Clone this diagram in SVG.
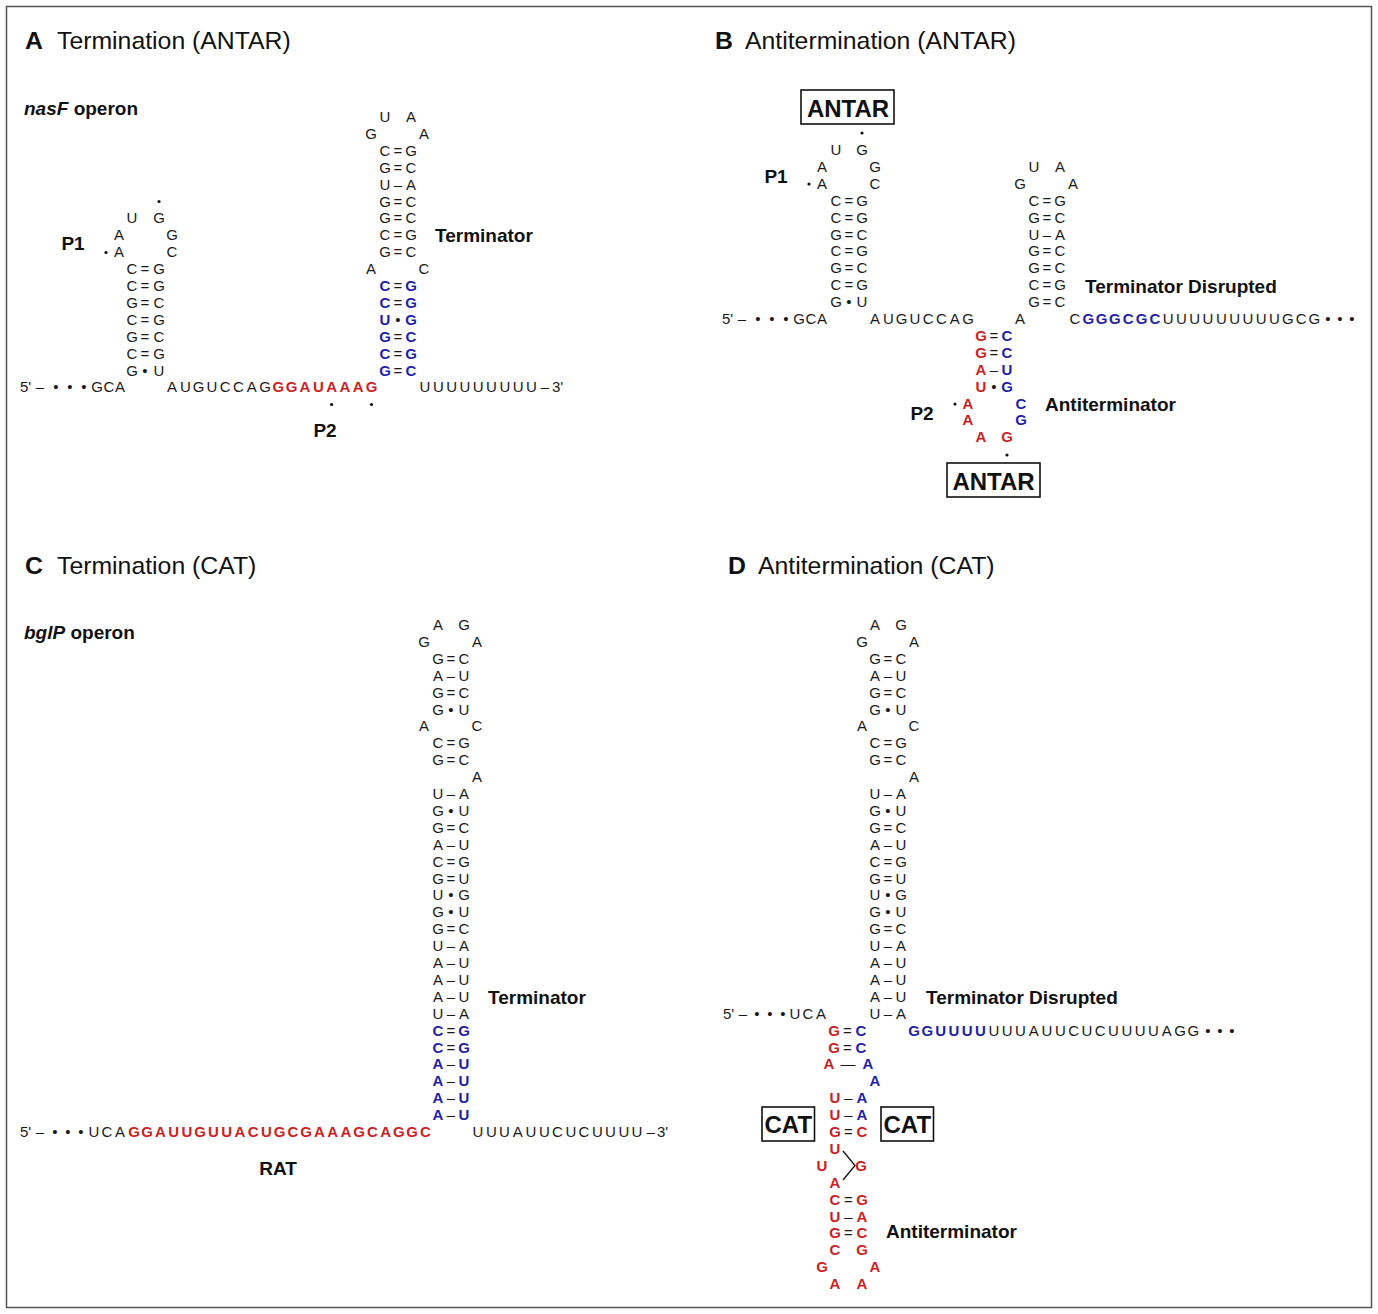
<svg xmlns="http://www.w3.org/2000/svg" width="1378" height="1314" viewBox="0 0 1378 1314">
<style>
.n{font-family:"Liberation Sans",Arial,sans-serif;font-size:15px;text-anchor:middle;fill:#1a1a1a}
.ns{font-family:"Liberation Sans",Arial,sans-serif;font-size:15px;text-anchor:start;fill:#1a1a1a}
.r{fill:#cc1f1f;font-weight:bold}
.b{fill:#1f1fa8;font-weight:bold}
.lb{font-family:"Liberation Sans",Arial,sans-serif;font-size:19px;font-weight:bold;fill:#111}
.tt{font-family:"Liberation Sans",Arial,sans-serif;font-size:24.8px;fill:#111}
.bx{font-family:"Liberation Sans",Arial,sans-serif;font-size:24px;font-weight:bold;fill:#111;text-anchor:middle}
.box{fill:#fff;stroke:#111;stroke-width:1.6}
.dot{fill:#111}
.ln{stroke:#111;stroke-width:1.3;fill:none}
</style>
<rect x="0" y="0" width="1378" height="1314" fill="#fff"/>
<rect x="6.5" y="6.5" width="1365" height="1301" fill="none" stroke="#555" stroke-width="1.5"/>

<g id="titles">
<text class="tt" x="25" y="49"><tspan font-weight="bold">A</tspan><tspan x="57">Termination (ANTAR)</tspan></text>
<text class="tt" x="715" y="49"><tspan font-weight="bold">B</tspan><tspan x="745">Antitermination (ANTAR)</tspan></text>
<text class="tt" x="25" y="574"><tspan font-weight="bold">C</tspan><tspan x="57">Termination (CAT)</tspan></text>
<text class="tt" x="728" y="574"><tspan font-weight="bold">D</tspan><tspan x="758">Antitermination (CAT)</tspan></text>
<text class="lb" x="24" y="115"><tspan font-style="italic">nasF</tspan> operon</text>
<text class="lb" x="24" y="639"><tspan font-style="italic">bglP</tspan> operon</text>
</g>

<!-- ================= PANEL A ================= -->
<g id="A-P1">
<circle class="dot" cx="159" cy="201.5" r="1.6"/>
<text class="n" x="132 159" y="223.4">UG</text>
<text class="n" x="119 172" y="240.3">AG</text>
<circle class="dot" cx="106" cy="252.5" r="1.6"/>
<text class="n" x="119 172" y="257.2">AC</text>
<text class="n" x="132 145 159" y="274.1">C=G</text>
<text class="n" x="132 145 159" y="291">C=G</text>
<text class="n" x="132 145 159" y="307.9">G=C</text>
<text class="n" x="132 145 159" y="324.8">C=G</text>
<text class="n" x="132 145 159" y="341.7">G=C</text>
<text class="n" x="132 145 159" y="358.6">C=G</text>
<text class="n" x="132 145 159" y="375.5">G•U</text>
<text class="lb" x="73" y="250" text-anchor="middle">P1</text>
</g>
<g id="A-terminator">
<text class="n" x="385 411" y="122">UA</text>
<text class="n" x="371 424" y="138.9">GA</text>
<text class="n" x="385 398 411" y="155.8">C=G</text>
<text class="n" x="385 398 411" y="172.7">G=C</text>
<text class="n" x="385 398 411" y="189.6">U–A</text>
<text class="n" x="385 398 411" y="206.5">G=C</text>
<text class="n" x="385 398 411" y="223.4">G=C</text>
<text class="n" x="385 398 411" y="240.3">C=G</text>
<text class="n" x="385 398 411" y="257.2">G=C</text>
<text class="n" x="371 424" y="274.1">AC</text>
<text class="n" x="385 398 411" y="291"><tspan class="b">C</tspan>=<tspan class="b">G</tspan></text>
<text class="n" x="385 398 411" y="307.9"><tspan class="b">C</tspan>=<tspan class="b">G</tspan></text>
<text class="n" x="385 398 411" y="324.8"><tspan class="b">U</tspan>•<tspan class="b">G</tspan></text>
<text class="n" x="385 398 411" y="341.7"><tspan class="b">G</tspan>=<tspan class="b">C</tspan></text>
<text class="n" x="385 398 411" y="358.6"><tspan class="b">C</tspan>=<tspan class="b">G</tspan></text>
<text class="n" x="385 398 411" y="375.5"><tspan class="b">G</tspan>=<tspan class="b">C</tspan></text>
<text class="lb" x="435" y="242">Terminator</text>
</g>
<g id="A-sequence">
<text class="ns" x="20" y="392.4">5'</text>
<text class="n" x="40 56 70 84 97 109 120" y="392.4">–•••GCA</text>
<text class="n" x="172 185.3 198.6 211.9 225.2 238.5 251.8 265.1 278.4 291.7 305 318.3 331.6 344.9 358.2 371.5" y="392.4">AUGUCCAG<tspan class="r">GGAUAAAG</tspan></text>
<text class="n" x="425 438.3 451.6 464.9 478.2 491.5 504.8 518.1 531.4 545" y="392.4">UUUUUUUUU–</text>
<text class="ns" x="552" y="392.4">3'</text>
<circle class="dot" cx="331.6" cy="404.5" r="1.6"/>
<circle class="dot" cx="371.5" cy="404.5" r="1.6"/>
<text class="lb" x="325" y="437" text-anchor="middle">P2</text>
</g>

<!-- ================= PANEL B ================= -->
<g id="B-P1">
<rect class="box" x="801" y="90" width="93" height="34"/>
<text class="bx" x="848" y="116.5">ANTAR</text>
<circle class="dot" cx="862" cy="133" r="1.6"/>
<text class="n" x="836 862" y="155">UG</text>
<text class="n" x="822 875" y="171.9">AG</text>
<circle class="dot" cx="809" cy="184" r="1.6"/>
<text class="n" x="822 875" y="188.8">AC</text>
<text class="n" x="836 849 862" y="205.7">C=G</text>
<text class="n" x="836 849 862" y="222.6">C=G</text>
<text class="n" x="836 849 862" y="239.5">G=C</text>
<text class="n" x="836 849 862" y="256.4">C=G</text>
<text class="n" x="836 849 862" y="273.3">G=C</text>
<text class="n" x="836 849 862" y="290.2">C=G</text>
<text class="n" x="836 849 862" y="307.1">G•U</text>
<text class="lb" x="776" y="183" text-anchor="middle">P1</text>
</g>
<g id="B-terminator">
<text class="n" x="1034 1060" y="171.9">UA</text>
<text class="n" x="1020 1073" y="188.8">GA</text>
<text class="n" x="1034 1047 1060" y="205.7">C=G</text>
<text class="n" x="1034 1047 1060" y="222.6">G=C</text>
<text class="n" x="1034 1047 1060" y="239.5">U–A</text>
<text class="n" x="1034 1047 1060" y="256.4">G=C</text>
<text class="n" x="1034 1047 1060" y="273.3">G=C</text>
<text class="n" x="1034 1047 1060" y="290.2">C=G</text>
<text class="n" x="1034 1047 1060" y="307.1">G=C</text>
<text class="lb" x="1085" y="293">Terminator Disrupted</text>
</g>
<g id="B-antiterminator">
<text class="n" x="981 994 1007" y="340.9"><tspan class="r">G</tspan>=<tspan class="b">C</tspan></text>
<text class="n" x="981 994 1007" y="357.8"><tspan class="r">G</tspan>=<tspan class="b">C</tspan></text>
<text class="n" x="981 994 1007" y="374.7"><tspan class="r">A</tspan>–<tspan class="b">U</tspan></text>
<text class="n" x="981 994 1007" y="391.6"><tspan class="r">U</tspan>•<tspan class="b">G</tspan></text>
<circle class="dot" cx="955" cy="404" r="1.6"/>
<text class="n" x="968 1021" y="408.5"><tspan class="r">A</tspan><tspan class="b">C</tspan></text>
<text class="n" x="968 1021" y="425.4"><tspan class="r">A</tspan><tspan class="b">G</tspan></text>
<text class="n" x="981 1007" y="442.3"><tspan class="r">AG</tspan></text>
<circle class="dot" cx="1007" cy="455" r="1.6"/>
<rect class="box" x="947" y="463" width="93" height="34"/>
<text class="bx" x="993.5" y="489.5">ANTAR</text>
<text class="lb" x="922" y="420" text-anchor="middle">P2</text>
<text class="lb" x="1045" y="411">Antiterminator</text>
</g>
<g id="B-sequence">
<text class="ns" x="722" y="324">5'</text>
<text class="n" x="742 758 772 786 799 811 822" y="324">–•••GCA</text>
<text class="n" x="875 888.3 901.6 914.9 928.2 941.5 954.8 968.1" y="324">AUGUCCAG</text>
<text class="n" x="1020" y="324">A</text>
<text class="n" x="1075 1088.3 1101.6 1114.9 1128.2 1141.5 1154.8 1168.1 1181.4 1194.7 1208 1221.3 1234.6 1247.9 1261.2 1274.5 1287.8 1301.1 1314.4 1328 1340 1352" y="324">C<tspan class="b">GGGCGC</tspan>UUUUUUUUUGCG•••</text>
</g>

<!-- ================= PANEL C ================= -->
<g id="C-terminator">
<text class="n" x="438 464" y="630">AG</text>
<text class="n" x="424 477" y="646.9">GA</text>
<text class="n" x="438 451 464" y="663.8">G=C</text>
<text class="n" x="438 451 464" y="680.7">A–U</text>
<text class="n" x="438 451 464" y="697.6">G=C</text>
<text class="n" x="438 451 464" y="714.5">G•U</text>
<text class="n" x="424 477" y="731.4">AC</text>
<text class="n" x="438 451 464" y="748.3">C=G</text>
<text class="n" x="438 451 464" y="765.2">G=C</text>
<text class="n" x="477" y="782.1">A</text>
<text class="n" x="438 451 464" y="799">U–A</text>
<text class="n" x="438 451 464" y="815.9">G•U</text>
<text class="n" x="438 451 464" y="832.8">G=C</text>
<text class="n" x="438 451 464" y="849.7">A–U</text>
<text class="n" x="438 451 464" y="866.6">C=G</text>
<text class="n" x="438 451 464" y="883.5">G=U</text>
<text class="n" x="438 451 464" y="900.4">U•G</text>
<text class="n" x="438 451 464" y="917.3">G•U</text>
<text class="n" x="438 451 464" y="934.2">G=C</text>
<text class="n" x="438 451 464" y="951.1">U–A</text>
<text class="n" x="438 451 464" y="968">A–U</text>
<text class="n" x="438 451 464" y="984.9">A–U</text>
<text class="n" x="438 451 464" y="1001.8">A–U</text>
<text class="n" x="438 451 464" y="1018.7">U–A</text>
<text class="n" x="438 451 464" y="1035.6"><tspan class="b">C</tspan>=<tspan class="b">G</tspan></text>
<text class="n" x="438 451 464" y="1052.5"><tspan class="b">C</tspan>=<tspan class="b">G</tspan></text>
<text class="n" x="438 451 464" y="1069.4"><tspan class="b">A</tspan>–<tspan class="b">U</tspan></text>
<text class="n" x="438 451 464" y="1086.3"><tspan class="b">A</tspan>–<tspan class="b">U</tspan></text>
<text class="n" x="438 451 464" y="1103.2"><tspan class="b">A</tspan>–<tspan class="b">U</tspan></text>
<text class="n" x="438 451 464" y="1120.1"><tspan class="b">A</tspan>–<tspan class="b">U</tspan></text>
<text class="lb" x="488" y="1004">Terminator</text>
</g>
<g id="C-sequence">
<text class="ns" x="20" y="1137">5'</text>
<text class="n" x="40 55 68 81 94 107 120" y="1137">–•••UCA</text>
<text class="n r" x="134 147.2 160.5 173.7 187 200.2 213.4 226.7 239.9 253.2 266.4 279.6 292.9 306.1 319.4 332.6 345.8 359.1 372.3 385.6 398.8 412 425.3" y="1137">GGAUUGUUACUGCGAAAGCAGGC</text>
<text class="n" x="478 491.3 504.5 517.8 531 544.3 557.5 570.8 584 597.3 610.5 623.8 637 651" y="1137">UUUAUUCUCUUUU–</text>
<text class="ns" x="657" y="1137">3'</text>
<text class="lb" x="278" y="1175" text-anchor="middle">RAT</text>
</g>

<!-- ================= PANEL D ================= -->
<g id="D-terminator">
<text class="n" x="875 901" y="630">AG</text>
<text class="n" x="862 914" y="646.9">GA</text>
<text class="n" x="875 888 901" y="663.8">G=C</text>
<text class="n" x="875 888 901" y="680.7">A–U</text>
<text class="n" x="875 888 901" y="697.6">G=C</text>
<text class="n" x="875 888 901" y="714.5">G•U</text>
<text class="n" x="862 914" y="731.4">AC</text>
<text class="n" x="875 888 901" y="748.3">C=G</text>
<text class="n" x="875 888 901" y="765.2">G=C</text>
<text class="n" x="914" y="782.1">A</text>
<text class="n" x="875 888 901" y="799">U–A</text>
<text class="n" x="875 888 901" y="815.9">G•U</text>
<text class="n" x="875 888 901" y="832.8">G=C</text>
<text class="n" x="875 888 901" y="849.7">A–U</text>
<text class="n" x="875 888 901" y="866.6">C=G</text>
<text class="n" x="875 888 901" y="883.5">G=U</text>
<text class="n" x="875 888 901" y="900.4">U•G</text>
<text class="n" x="875 888 901" y="917.3">G•U</text>
<text class="n" x="875 888 901" y="934.2">G=C</text>
<text class="n" x="875 888 901" y="951.1">U–A</text>
<text class="n" x="875 888 901" y="968">A–U</text>
<text class="n" x="875 888 901" y="984.9">A–U</text>
<text class="n" x="875 888 901" y="1001.8">A–U</text>
<text class="n" x="875 888 901" y="1018.7">U–A</text>
<text class="lb" x="926" y="1004">Terminator Disrupted</text>
</g>
<g id="D-sequence">
<text class="ns" x="723" y="1018.7">5'</text>
<text class="n" x="743 757 770 783 795 808 821" y="1018.7">–•••UCA</text>
<text class="n" x="914 927.3 940.6 953.9 967.2 980.5 993.8 1007.1 1020.4 1033.7 1047 1060.3 1073.6 1086.9 1100.2 1113.5 1126.8 1140.1 1153.4 1166.7 1180 1193.3 1208 1220 1232" y="1035.6"><tspan class="b">GGUUUU</tspan>UUUAUUCUCUUUUAGG•••</text>
</g>
<g id="D-antiterminator">
<text class="n" x="834 847.5 861" y="1035.6"><tspan class="r">G</tspan>=<tspan class="b">C</tspan></text>
<text class="n" x="834 847.5 861" y="1052.5"><tspan class="r">G</tspan>=<tspan class="b">C</tspan></text>
<text class="n" x="829 848 868" y="1069.4"><tspan class="r">A</tspan>—<tspan class="b">A</tspan></text>
<text class="n" x="875" y="1086.3"><tspan class="b">A</tspan></text>
<text class="n" x="835 848.5 862" y="1103.2"><tspan class="r">U</tspan>–<tspan class="b">A</tspan></text>
<text class="n" x="835 848.5 862" y="1120.1"><tspan class="r">U</tspan>–<tspan class="b">A</tspan></text>
<text class="n" x="835 848.5 862" y="1137"><tspan class="r">G</tspan>=<tspan class="r">C</tspan></text>
<text class="n r" x="835" y="1153.9">U</text>
<text class="n r" x="822 861" y="1170.8">UG</text>
<path class="ln" d="M843,1151 L855,1165.5 L843,1180"/>
<text class="n r" x="835" y="1187.7">A</text>
<text class="n" x="835 848.5 862" y="1204.6"><tspan class="r">C</tspan>=<tspan class="r">G</tspan></text>
<text class="n" x="835 848.5 862" y="1221.5"><tspan class="r">U</tspan>–<tspan class="r">A</tspan></text>
<text class="n" x="835 848.5 862" y="1238.4"><tspan class="r">G</tspan>=<tspan class="r">C</tspan></text>
<text class="n r" x="835 862" y="1255.3">CG</text>
<text class="n r" x="822 875" y="1272.2">GA</text>
<text class="n r" x="835 862" y="1289.1">AA</text>
<text class="lb" x="886" y="1238">Antiterminator</text>
</g>
<g id="D-CAT-left">
<rect class="box" x="762" y="1107" width="52.5" height="34"/>
<text class="bx" x="788.3" y="1132.5">CAT</text>
</g>
<g id="D-CAT-right">
<rect class="box" x="881" y="1107" width="52.5" height="34"/>
<text class="bx" x="907.3" y="1132.5">CAT</text>
</g>
</svg>
